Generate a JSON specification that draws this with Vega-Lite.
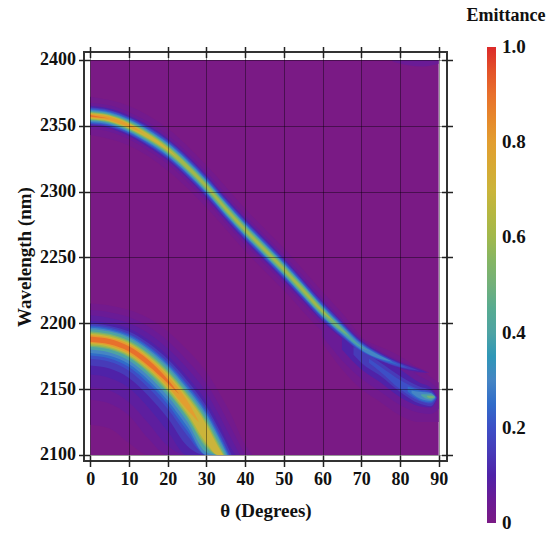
{"$schema":"https://vega.github.io/schema/vega-lite/v6.json","width":363,"height":409,"autosize":{"type":"none"},"padding":{"left":84,"top":52,"right":112,"bottom":72},"background":"white","config":{"view":{"stroke":"#333333","strokeWidth":2},"font":"Liberation Serif"},
"data":{"values":[
{"b":"Z","e":0,"t":0,"hi":2400,"lo":2100},{"b":"Z","e":0,"t":90,"hi":2400,"lo":2100},
{"b":"A","e":0.025,"t":0,"hi":2215,"lo":2123},{"b":"A","e":0.025,"t":5,"hi":2213.5,"lo":2120},{"b":"A","e":0.025,"t":10,"hi":2210,"lo":2109},{"b":"A","e":0.025,"t":15,"hi":2204,"lo":2100},{"b":"A","e":0.025,"t":20,"hi":2194,"lo":2100},{"b":"A","e":0.025,"t":25,"hi":2180,"lo":2100},{"b":"A","e":0.025,"t":30,"hi":2163,"lo":2100},{"b":"A","e":0.025,"t":33,"hi":2149,"lo":2100},{"b":"A","e":0.025,"t":36,"hi":2133,"lo":2100},{"b":"A","e":0.025,"t":40,"hi":2108,"lo":2100},{"b":"A","e":0.025,"t":42,"hi":2100,"lo":2100},
{"b":"U","e":0.025,"t":0,"hi":2372,"lo":2343},{"b":"U","e":0.025,"t":10,"hi":2365,"lo":2335},{"b":"U","e":0.025,"t":20,"hi":2348,"lo":2316},{"b":"U","e":0.025,"t":30,"hi":2320,"lo":2288},{"b":"U","e":0.025,"t":40,"hi":2287,"lo":2255},{"b":"U","e":0.025,"t":50,"hi":2257,"lo":2225},{"b":"U","e":0.025,"t":60,"hi":2224,"lo":2194},{"b":"U","e":0.025,"t":65,"hi":2208,"lo":2184},{"b":"U","e":0.025,"t":70,"hi":2190,"lo":2175},{"b":"U","e":0.025,"t":80,"hi":2173,"lo":2163},{"b":"U","e":0.025,"t":87,"hi":2163,"lo":2162},
{"b":"B","e":0.025,"t":60,"hi":2200,"lo":2185},{"b":"B","e":0.025,"t":65,"hi":2195,"lo":2165},{"b":"B","e":0.025,"t":70,"hi":2188,"lo":2150},{"b":"B","e":0.025,"t":75,"hi":2182,"lo":2140},{"b":"B","e":0.025,"t":80,"hi":2175,"lo":2130},{"b":"B","e":0.025,"t":85,"hi":2165,"lo":2125},{"b":"B","e":0.025,"t":90,"hi":2155,"lo":2125},
{"b":"C","e":0.05,"t":78,"hi":2400,"lo":2399},{"b":"C","e":0.05,"t":82,"hi":2400,"lo":2396},{"b":"C","e":0.05,"t":86,"hi":2400,"lo":2395},{"b":"C","e":0.05,"t":90,"hi":2400,"lo":2397},
{"b":"A","e":0.05,"t":0,"hi":2210,"lo":2142},{"b":"A","e":0.05,"t":5,"hi":2208.4,"lo":2139},{"b":"A","e":0.05,"t":10,"hi":2204.7,"lo":2130},{"b":"A","e":0.05,"t":15,"hi":2197.5,"lo":2112.5},{"b":"A","e":0.05,"t":20,"hi":2186.8,"lo":2100},{"b":"A","e":0.05,"t":25,"hi":2172,"lo":2100},{"b":"A","e":0.05,"t":30,"hi":2154.5,"lo":2100},{"b":"A","e":0.05,"t":33,"hi":2139.7,"lo":2100},{"b":"A","e":0.05,"t":36,"hi":2123,"lo":2100},{"b":"A","e":0.05,"t":40,"hi":2100,"lo":2100},
{"b":"U","e":0.05,"t":0,"hi":2367.5,"lo":2347.5},{"b":"U","e":0.05,"t":5,"hi":2365.5,"lo":2345.5},{"b":"U","e":0.05,"t":10,"hi":2360.3,"lo":2339.7},{"b":"U","e":0.05,"t":15,"hi":2352.9,"lo":2331.1},{"b":"U","e":0.05,"t":20,"hi":2342.9,"lo":2321.1},{"b":"U","e":0.05,"t":25,"hi":2330.1,"lo":2307.9},{"b":"U","e":0.05,"t":30,"hi":2315.2,"lo":2292.8},{"b":"U","e":0.05,"t":35,"hi":2298.2,"lo":2275.8},{"b":"U","e":0.05,"t":40,"hi":2282.2,"lo":2259.8},{"b":"U","e":0.05,"t":45,"hi":2267.2,"lo":2244.8},{"b":"U","e":0.05,"t":50,"hi":2252.2,"lo":2229.8},{"b":"U","e":0.05,"t":55,"hi":2235.8,"lo":2214.3},{"b":"U","e":0.05,"t":60,"hi":2219.1,"lo":2198.9},{"b":"U","e":0.05,"t":65,"hi":2203.4,"lo":2186.6},{"b":"U","e":0.05,"t":70,"hi":2188.4,"lo":2175.6},{"b":"U","e":0.05,"t":75,"hi":2178.8,"lo":2169.2},{"b":"U","e":0.05,"t":80,"hi":2171.3,"lo":2164.7},{"b":"U","e":0.05,"t":85,"hi":2165.8,"lo":2162.2},{"b":"U","e":0.05,"t":87.5,"hi":2162.6,"lo":2162.2},
{"b":"B","e":0.05,"t":60,"hi":2200,"lo":2190},{"b":"B","e":0.05,"t":65,"hi":2195,"lo":2172},{"b":"B","e":0.05,"t":70,"hi":2185,"lo":2158},{"b":"B","e":0.05,"t":75,"hi":2178,"lo":2148},{"b":"B","e":0.05,"t":80,"hi":2170,"lo":2138},{"b":"B","e":0.05,"t":85,"hi":2160,"lo":2132},{"b":"B","e":0.05,"t":88,"hi":2155,"lo":2131},{"b":"B","e":0.05,"t":90,"hi":2150,"lo":2135},
{"b":"A","e":0.075,"t":0,"hi":2206,"lo":2151.5},{"b":"A","e":0.075,"t":5,"hi":2204,"lo":2149},{"b":"A","e":0.075,"t":10,"hi":2200,"lo":2140},{"b":"A","e":0.075,"t":15,"hi":2192.5,"lo":2124},{"b":"A","e":0.075,"t":20,"hi":2181,"lo":2107},{"b":"A","e":0.075,"t":25,"hi":2166,"lo":2100},{"b":"A","e":0.075,"t":30,"hi":2147.5,"lo":2100},{"b":"A","e":0.075,"t":33,"hi":2132,"lo":2100},{"b":"A","e":0.075,"t":36,"hi":2115,"lo":2100},{"b":"A","e":0.075,"t":38.7,"hi":2100,"lo":2100},
{"b":"A","e":0.1,"t":0,"hi":2202,"lo":2161},{"b":"A","e":0.1,"t":5,"hi":2200,"lo":2158.5},{"b":"A","e":0.1,"t":10,"hi":2196,"lo":2151},{"b":"A","e":0.1,"t":15,"hi":2187.5,"lo":2136},{"b":"A","e":0.1,"t":20,"hi":2175.6,"lo":2118},{"b":"A","e":0.1,"t":25,"hi":2159.7,"lo":2100},{"b":"A","e":0.1,"t":30,"hi":2140.5,"lo":2100},{"b":"A","e":0.1,"t":33,"hi":2125,"lo":2100},{"b":"A","e":0.1,"t":36,"hi":2107,"lo":2100},{"b":"A","e":0.1,"t":37.5,"hi":2100,"lo":2100},
{"b":"U","e":0.1,"t":0,"hi":2365.1,"lo":2349.9},{"b":"U","e":0.1,"t":5,"hi":2363,"lo":2348},{"b":"U","e":0.1,"t":10,"hi":2357.8,"lo":2342.2},{"b":"U","e":0.1,"t":15,"hi":2350.3,"lo":2333.7},{"b":"U","e":0.1,"t":20,"hi":2340.4,"lo":2323.6},{"b":"U","e":0.1,"t":25,"hi":2327.5,"lo":2310.5},{"b":"U","e":0.1,"t":30,"hi":2312.6,"lo":2295.4},{"b":"U","e":0.1,"t":35,"hi":2295.5,"lo":2278.5},{"b":"U","e":0.1,"t":40,"hi":2279.5,"lo":2262.5},{"b":"U","e":0.1,"t":45,"hi":2264.5,"lo":2247.5},{"b":"U","e":0.1,"t":50,"hi":2249.5,"lo":2232.5},{"b":"U","e":0.1,"t":55,"hi":2233.1,"lo":2216.9},{"b":"U","e":0.1,"t":60,"hi":2216.7,"lo":2201.3},{"b":"U","e":0.1,"t":65,"hi":2201.4,"lo":2188.6},{"b":"U","e":0.1,"t":70,"hi":2186.9,"lo":2177.1},{"b":"U","e":0.1,"t":75,"hi":2177.6,"lo":2170.4},{"b":"U","e":0.1,"t":80,"hi":2170.3,"lo":2165.7},{"b":"U","e":0.1,"t":85,"hi":2165,"lo":2163},{"b":"U","e":0.1,"t":87,"hi":2162.5,"lo":2162.5},
{"b":"B","e":0.1,"t":65,"hi":2192,"lo":2180},{"b":"B","e":0.1,"t":70,"hi":2183,"lo":2165},{"b":"B","e":0.1,"t":75,"hi":2175,"lo":2155},{"b":"B","e":0.1,"t":80,"hi":2165,"lo":2144},{"b":"B","e":0.1,"t":85,"hi":2155,"lo":2137},{"b":"B","e":0.1,"t":88,"hi":2151,"lo":2136},{"b":"B","e":0.1,"t":89.7,"hi":2144,"lo":2143},
{"b":"A","e":0.15,"t":0,"hi":2200,"lo":2168},{"b":"A","e":0.15,"t":5,"hi":2198,"lo":2165.6},{"b":"A","e":0.15,"t":10,"hi":2193.7,"lo":2158.5},{"b":"A","e":0.15,"t":15,"hi":2185,"lo":2145},{"b":"A","e":0.15,"t":20,"hi":2172.8,"lo":2128},{"b":"A","e":0.15,"t":25,"hi":2156.6,"lo":2107},{"b":"A","e":0.15,"t":30,"hi":2137,"lo":2100},{"b":"A","e":0.15,"t":33,"hi":2121,"lo":2100},{"b":"A","e":0.15,"t":36,"hi":2103.4,"lo":2100},{"b":"A","e":0.15,"t":36.5,"hi":2100,"lo":2100},
{"b":"U","e":0.15,"t":0,"hi":2364,"lo":2351},{"b":"U","e":0.15,"t":5,"hi":2362,"lo":2349},{"b":"U","e":0.15,"t":10,"hi":2356.6,"lo":2343.4},{"b":"U","e":0.15,"t":15,"hi":2349,"lo":2335},{"b":"U","e":0.15,"t":20,"hi":2339.1,"lo":2324.9},{"b":"U","e":0.15,"t":25,"hi":2326.3,"lo":2311.7},{"b":"U","e":0.15,"t":30,"hi":2311.3,"lo":2296.7},{"b":"U","e":0.15,"t":35,"hi":2294.2,"lo":2279.8},{"b":"U","e":0.15,"t":40,"hi":2278.2,"lo":2263.8},{"b":"U","e":0.15,"t":45,"hi":2263.2,"lo":2248.8},{"b":"U","e":0.15,"t":50,"hi":2248.2,"lo":2233.8},{"b":"U","e":0.15,"t":55,"hi":2231.9,"lo":2218.1},{"b":"U","e":0.15,"t":60,"hi":2215.5,"lo":2202.5},{"b":"U","e":0.15,"t":65,"hi":2200.4,"lo":2189.6},{"b":"U","e":0.15,"t":70,"hi":2185.9,"lo":2178.1},{"b":"U","e":0.15,"t":75,"hi":2176.7,"lo":2171.3},{"b":"U","e":0.15,"t":80,"hi":2169.6,"lo":2166.4},{"b":"U","e":0.15,"t":85,"hi":2164,"lo":2164},
{"b":"B","e":0.15,"t":68,"hi":2182,"lo":2176},{"b":"B","e":0.15,"t":70,"hi":2180,"lo":2170},{"b":"B","e":0.15,"t":75,"hi":2170,"lo":2160},{"b":"B","e":0.15,"t":80,"hi":2160,"lo":2148},{"b":"B","e":0.15,"t":85,"hi":2152,"lo":2139},{"b":"B","e":0.15,"t":88,"hi":2149,"lo":2137},{"b":"B","e":0.15,"t":89.5,"hi":2144,"lo":2143},
{"b":"A","e":0.2,"t":0,"hi":2198.5,"lo":2173},{"b":"A","e":0.2,"t":5,"hi":2196.7,"lo":2170.7},{"b":"A","e":0.2,"t":10,"hi":2192,"lo":2164},{"b":"A","e":0.2,"t":15,"hi":2183,"lo":2151},{"b":"A","e":0.2,"t":20,"hi":2170.7,"lo":2135},{"b":"A","e":0.2,"t":25,"hi":2154,"lo":2115},{"b":"A","e":0.2,"t":30,"hi":2134.4,"lo":2100},{"b":"A","e":0.2,"t":33,"hi":2118.4,"lo":2100},{"b":"A","e":0.2,"t":36,"hi":2100,"lo":2100},
{"b":"U","e":0.2,"t":0,"hi":2363.4,"lo":2351.6},{"b":"U","e":0.2,"t":5,"hi":2361.3,"lo":2349.7},{"b":"U","e":0.2,"t":10,"hi":2356,"lo":2344},{"b":"U","e":0.2,"t":15,"hi":2348.2,"lo":2335.8},{"b":"U","e":0.2,"t":20,"hi":2338.2,"lo":2325.8},{"b":"U","e":0.2,"t":25,"hi":2325.3,"lo":2312.7},{"b":"U","e":0.2,"t":30,"hi":2310.3,"lo":2297.7},{"b":"U","e":0.2,"t":35,"hi":2293.2,"lo":2280.8},{"b":"U","e":0.2,"t":40,"hi":2277.2,"lo":2264.8},{"b":"U","e":0.2,"t":45,"hi":2262.2,"lo":2249.8},{"b":"U","e":0.2,"t":50,"hi":2247.2,"lo":2234.8},{"b":"U","e":0.2,"t":55,"hi":2230.9,"lo":2219.1},{"b":"U","e":0.2,"t":60,"hi":2214.4,"lo":2203.6},{"b":"U","e":0.2,"t":65,"hi":2199.4,"lo":2190.6},{"b":"U","e":0.2,"t":70,"hi":2185.2,"lo":2178.8},{"b":"U","e":0.2,"t":75,"hi":2176.1,"lo":2171.9},{"b":"U","e":0.2,"t":80,"hi":2169,"lo":2167},{"b":"U","e":0.2,"t":82,"hi":2166,"lo":2166},
{"b":"B","e":0.2,"t":72,"hi":2173,"lo":2170},{"b":"B","e":0.2,"t":75,"hi":2167,"lo":2163},{"b":"B","e":0.2,"t":80,"hi":2157,"lo":2150},{"b":"B","e":0.2,"t":85,"hi":2150,"lo":2141},{"b":"B","e":0.2,"t":88,"hi":2148,"lo":2139},{"b":"B","e":0.2,"t":89.3,"hi":2144,"lo":2143},
{"b":"A","e":0.25,"t":0,"hi":2197.5,"lo":2175.5},{"b":"A","e":0.25,"t":5,"hi":2195.7,"lo":2173.2},{"b":"A","e":0.25,"t":10,"hi":2191,"lo":2166.7},{"b":"A","e":0.25,"t":15,"hi":2182,"lo":2154.4},{"b":"A","e":0.25,"t":20,"hi":2169.3,"lo":2138.5},{"b":"A","e":0.25,"t":25,"hi":2152.7,"lo":2118.6},{"b":"A","e":0.25,"t":30,"hi":2132.6,"lo":2100},{"b":"A","e":0.25,"t":33,"hi":2116.6,"lo":2100},{"b":"A","e":0.25,"t":35.8,"hi":2100,"lo":2100},
{"b":"U","e":0.25,"t":0,"hi":2362.7,"lo":2352.3},{"b":"U","e":0.25,"t":5,"hi":2360.7,"lo":2350.3},{"b":"U","e":0.25,"t":10,"hi":2355.3,"lo":2344.7},{"b":"U","e":0.25,"t":15,"hi":2347.4,"lo":2336.6},{"b":"U","e":0.25,"t":20,"hi":2337.4,"lo":2326.6},{"b":"U","e":0.25,"t":25,"hi":2324.4,"lo":2313.6},{"b":"U","e":0.25,"t":30,"hi":2309.3,"lo":2298.7},{"b":"U","e":0.25,"t":35,"hi":2292.3,"lo":2281.7},{"b":"U","e":0.25,"t":40,"hi":2276.3,"lo":2265.7},{"b":"U","e":0.25,"t":45,"hi":2261.3,"lo":2250.7},{"b":"U","e":0.25,"t":50,"hi":2246.3,"lo":2235.7},{"b":"U","e":0.25,"t":55,"hi":2230.1,"lo":2219.9},{"b":"U","e":0.25,"t":60,"hi":2213.7,"lo":2204.3},{"b":"U","e":0.25,"t":65,"hi":2198.8,"lo":2191.2},{"b":"U","e":0.25,"t":70,"hi":2184.6,"lo":2179.4},{"b":"U","e":0.25,"t":75,"hi":2175.6,"lo":2172.4},{"b":"U","e":0.25,"t":80,"hi":2168,"lo":2168},
{"b":"B","e":0.25,"t":82,"hi":2152,"lo":2148},{"b":"B","e":0.25,"t":85,"hi":2149,"lo":2142},{"b":"B","e":0.25,"t":88,"hi":2147,"lo":2140},{"b":"B","e":0.25,"t":89.2,"hi":2144,"lo":2143},
{"b":"A","e":0.3,"t":0,"hi":2196.5,"lo":2177.5},{"b":"A","e":0.3,"t":5,"hi":2194.7,"lo":2175.3},{"b":"A","e":0.3,"t":10,"hi":2189.9,"lo":2169},{"b":"A","e":0.3,"t":15,"hi":2180.6,"lo":2157},{"b":"A","e":0.3,"t":20,"hi":2168,"lo":2141.3},{"b":"A","e":0.3,"t":25,"hi":2151,"lo":2121.7},{"b":"A","e":0.3,"t":30,"hi":2131,"lo":2100},{"b":"A","e":0.3,"t":33,"hi":2114.7,"lo":2100},{"b":"A","e":0.3,"t":35.5,"hi":2100,"lo":2100},
{"b":"U","e":0.3,"t":0,"hi":2362.2,"lo":2352.8},{"b":"U","e":0.3,"t":5,"hi":2360.1,"lo":2350.9},{"b":"U","e":0.3,"t":10,"hi":2354.7,"lo":2345.3},{"b":"U","e":0.3,"t":15,"hi":2346.8,"lo":2337.2},{"b":"U","e":0.3,"t":20,"hi":2336.8,"lo":2327.2},{"b":"U","e":0.3,"t":25,"hi":2323.8,"lo":2314.2},{"b":"U","e":0.3,"t":30,"hi":2308.7,"lo":2299.3},{"b":"U","e":0.3,"t":35,"hi":2291.6,"lo":2282.4},{"b":"U","e":0.3,"t":40,"hi":2275.6,"lo":2266.4},{"b":"U","e":0.3,"t":45,"hi":2260.6,"lo":2251.4},{"b":"U","e":0.3,"t":50,"hi":2245.6,"lo":2236.4},{"b":"U","e":0.3,"t":55,"hi":2229.5,"lo":2220.5},{"b":"U","e":0.3,"t":60,"hi":2213,"lo":2205},{"b":"U","e":0.3,"t":65,"hi":2198.2,"lo":2191.8},{"b":"U","e":0.3,"t":70,"hi":2184.1,"lo":2179.9},{"b":"U","e":0.3,"t":75,"hi":2175.1,"lo":2172.9},{"b":"U","e":0.3,"t":78,"hi":2171,"lo":2171},
{"b":"B","e":0.3,"t":83,"hi":2149,"lo":2147},{"b":"B","e":0.3,"t":85,"hi":2148,"lo":2143},{"b":"B","e":0.3,"t":88,"hi":2147,"lo":2141},{"b":"B","e":0.3,"t":89.1,"hi":2144,"lo":2143.5},
{"b":"A","e":0.4,"t":0,"hi":2195.5,"lo":2180},{"b":"A","e":0.4,"t":5,"hi":2193.7,"lo":2177.8},{"b":"A","e":0.4,"t":10,"hi":2188.8,"lo":2171.7},{"b":"A","e":0.4,"t":15,"hi":2179.4,"lo":2160},{"b":"A","e":0.4,"t":20,"hi":2166.5,"lo":2144.8},{"b":"A","e":0.4,"t":25,"hi":2149.6,"lo":2125.6},{"b":"A","e":0.4,"t":30,"hi":2129,"lo":2102},{"b":"A","e":0.4,"t":33,"hi":2113,"lo":2100},{"b":"A","e":0.4,"t":35.2,"hi":2100,"lo":2100},
{"b":"U","e":0.4,"t":0,"hi":2361.3,"lo":2353.7},{"b":"U","e":0.4,"t":5,"hi":2359.3,"lo":2351.7},{"b":"U","e":0.4,"t":10,"hi":2353.9,"lo":2346.1},{"b":"U","e":0.4,"t":15,"hi":2345.9,"lo":2338.1},{"b":"U","e":0.4,"t":20,"hi":2335.7,"lo":2328.3},{"b":"U","e":0.4,"t":25,"hi":2322.7,"lo":2315.3},{"b":"U","e":0.4,"t":30,"hi":2307.9,"lo":2300.1},{"b":"U","e":0.4,"t":35,"hi":2290.9,"lo":2283.1},{"b":"U","e":0.4,"t":40,"hi":2274.9,"lo":2267.1},{"b":"U","e":0.4,"t":45,"hi":2259.9,"lo":2252.1},{"b":"U","e":0.4,"t":50,"hi":2244.9,"lo":2237.1},{"b":"U","e":0.4,"t":55,"hi":2228.9,"lo":2221.1},{"b":"U","e":0.4,"t":60,"hi":2212.4,"lo":2205.6},{"b":"U","e":0.4,"t":65,"hi":2197.2,"lo":2192.8},{"b":"U","e":0.4,"t":70,"hi":2182.6,"lo":2181.4},{"b":"U","e":0.4,"t":72,"hi":2179,"lo":2179},
{"b":"B","e":0.4,"t":85.5,"hi":2146,"lo":2145},{"b":"B","e":0.4,"t":87,"hi":2146,"lo":2142.5},{"b":"B","e":0.4,"t":88,"hi":2146,"lo":2142},{"b":"B","e":0.4,"t":89,"hi":2144.5,"lo":2143.5},
{"b":"A","e":0.5,"t":0,"hi":2194,"lo":2182},{"b":"A","e":0.5,"t":5,"hi":2192,"lo":2180},{"b":"A","e":0.5,"t":10,"hi":2187,"lo":2174},{"b":"A","e":0.5,"t":15,"hi":2177.5,"lo":2162.5},{"b":"A","e":0.5,"t":20,"hi":2164.4,"lo":2147.6},{"b":"A","e":0.5,"t":25,"hi":2147.3,"lo":2128.7},{"b":"A","e":0.5,"t":30,"hi":2126.5,"lo":2105.5},{"b":"A","e":0.5,"t":33,"hi":2110,"lo":2100},{"b":"A","e":0.5,"t":34.8,"hi":2100,"lo":2100},
{"b":"U","e":0.5,"t":0,"hi":2360.7,"lo":2354.3},{"b":"U","e":0.5,"t":5,"hi":2358.6,"lo":2352.4},{"b":"U","e":0.5,"t":10,"hi":2353.2,"lo":2346.8},{"b":"U","e":0.5,"t":15,"hi":2345,"lo":2339},{"b":"U","e":0.5,"t":20,"hi":2334.9,"lo":2329.1},{"b":"U","e":0.5,"t":25,"hi":2321.8,"lo":2316.2},{"b":"U","e":0.5,"t":30,"hi":2306.9,"lo":2301.1},{"b":"U","e":0.5,"t":35,"hi":2289.9,"lo":2284.1},{"b":"U","e":0.5,"t":40,"hi":2273.9,"lo":2268.1},{"b":"U","e":0.5,"t":45,"hi":2258.9,"lo":2253.1},{"b":"U","e":0.5,"t":50,"hi":2243.9,"lo":2238.1},{"b":"U","e":0.5,"t":55,"hi":2227.9,"lo":2222.1},{"b":"U","e":0.5,"t":60,"hi":2211.3,"lo":2206.7},{"b":"U","e":0.5,"t":65,"hi":2196,"lo":2194},{"b":"U","e":0.5,"t":67,"hi":2190,"lo":2190},
{"b":"B","e":0.5,"t":87,"hi":2145,"lo":2144},{"b":"B","e":0.5,"t":88,"hi":2145,"lo":2143},{"b":"B","e":0.5,"t":88.9,"hi":2144.2,"lo":2143.8},
{"b":"A","e":0.6,"t":0,"hi":2193,"lo":2183},{"b":"A","e":0.6,"t":5,"hi":2191,"lo":2181},{"b":"A","e":0.6,"t":10,"hi":2186,"lo":2175},{"b":"A","e":0.6,"t":15,"hi":2176.3,"lo":2163.7},{"b":"A","e":0.6,"t":20,"hi":2163,"lo":2149},{"b":"A","e":0.6,"t":25,"hi":2145.8,"lo":2130.2},{"b":"A","e":0.6,"t":30,"hi":2124.8,"lo":2107.2},{"b":"A","e":0.6,"t":33,"hi":2108,"lo":2100},{"b":"A","e":0.6,"t":34.5,"hi":2100,"lo":2100},
{"b":"U","e":0.6,"t":0,"hi":2360,"lo":2355},{"b":"U","e":0.6,"t":5,"hi":2358,"lo":2353},{"b":"U","e":0.6,"t":10,"hi":2352.5,"lo":2347.5},{"b":"U","e":0.6,"t":15,"hi":2344.3,"lo":2339.7},{"b":"U","e":0.6,"t":20,"hi":2334,"lo":2330},{"b":"U","e":0.6,"t":25,"hi":2320.8,"lo":2317.2},{"b":"U","e":0.6,"t":30,"hi":2305.5,"lo":2302.5},{"b":"U","e":0.6,"t":35,"hi":2288.5,"lo":2285.5},{"b":"U","e":0.6,"t":40,"hi":2272.5,"lo":2269.5},{"b":"U","e":0.6,"t":45,"hi":2257.5,"lo":2254.5},{"b":"U","e":0.6,"t":50,"hi":2242.5,"lo":2239.5},{"b":"U","e":0.6,"t":55,"hi":2226.5,"lo":2223.5},{"b":"U","e":0.6,"t":60,"hi":2210,"lo":2208},{"b":"U","e":0.6,"t":63,"hi":2201,"lo":2201},
{"b":"A","e":0.7,"t":0,"hi":2192,"lo":2184},{"b":"A","e":0.7,"t":5,"hi":2190,"lo":2182},{"b":"A","e":0.7,"t":10,"hi":2185,"lo":2176},{"b":"A","e":0.7,"t":15,"hi":2175,"lo":2165},{"b":"A","e":0.7,"t":20,"hi":2161.6,"lo":2150.4},{"b":"A","e":0.7,"t":25,"hi":2144,"lo":2132},{"b":"A","e":0.7,"t":30,"hi":2123,"lo":2109},{"b":"A","e":0.7,"t":33,"hi":2106.4,"lo":2100},{"b":"A","e":0.7,"t":34.3,"hi":2100,"lo":2100},
{"b":"U","e":0.7,"t":0,"hi":2359.5,"lo":2355.5},{"b":"U","e":0.7,"t":5,"hi":2357.5,"lo":2353.5},{"b":"U","e":0.7,"t":10,"hi":2351.9,"lo":2348.1},{"b":"U","e":0.7,"t":15,"hi":2343.5,"lo":2340.5},{"b":"U","e":0.7,"t":20,"hi":2332.8,"lo":2331.2},{"b":"U","e":0.7,"t":23,"hi":2324.5,"lo":2324.5},
{"b":"A","e":0.8,"t":0,"hi":2191,"lo":2185},{"b":"A","e":0.8,"t":5,"hi":2189,"lo":2183},{"b":"A","e":0.8,"t":10,"hi":2184,"lo":2177},{"b":"A","e":0.8,"t":15,"hi":2173.7,"lo":2166.3},{"b":"A","e":0.8,"t":20,"hi":2160,"lo":2152},{"b":"A","e":0.8,"t":25,"hi":2141.5,"lo":2134.5},{"b":"A","e":0.8,"t":28,"hi":2125.5,"lo":2125},
{"b":"U","e":0.8,"t":0,"hi":2359,"lo":2356},{"b":"U","e":0.8,"t":5,"hi":2356.9,"lo":2354.1},{"b":"U","e":0.8,"t":10,"hi":2351.2,"lo":2348.8},{"b":"U","e":0.8,"t":14,"hi":2344,"lo":2344},
{"b":"A","e":0.9,"t":0,"hi":2190,"lo":2186},{"b":"A","e":0.9,"t":5,"hi":2188,"lo":2184},{"b":"A","e":0.9,"t":10,"hi":2182.5,"lo":2178.5},{"b":"A","e":0.9,"t":15,"hi":2172.3,"lo":2167.7},{"b":"A","e":0.9,"t":20,"hi":2157.5,"lo":2154.5},{"b":"A","e":0.9,"t":23,"hi":2146,"lo":2146},
{"b":"U","e":0.9,"t":0,"hi":2358.1,"lo":2356.9},{"b":"U","e":0.9,"t":5,"hi":2355.5,"lo":2355.5}
]},
"resolve":{"axis":{"x":"independent","y":"independent"}},
"layer":[
{"mark":{"type":"area","interpolate":"monotone"},
"encoding":{
"x":{"field":"t","type":"quantitative","scale":{"domain":[-1.6,92.15],"nice":false,"zero":false},"axis":{"orient":"bottom","title":"θ (Degrees)","values":[0,10,20,30,40,50,60,70,80,90],"offset":-5.5,"tickSize":11,"tickWidth":1.5,"tickColor":"#222222","domain":false,"grid":true,"gridColor":"#000000","gridOpacity":0.4,"gridWidth":1,"zindex":1,"labelFont":"Liberation Serif","labelFontWeight":"bold","labelFontSize":18,"labelColor":"#111111","labelPadding":4,"titleFont":"Liberation Serif","titleFontWeight":"bold","titleFontSize":19,"titleColor":"#111111","titlePadding":13}},
"y":{"field":"hi","type":"quantitative","scale":{"domain":[2095.4,2406],"nice":false,"zero":false},"axis":{"orient":"left","title":"Wavelength (nm)","format":"d","values":[2100,2150,2200,2250,2300,2350,2400],"offset":-5.5,"tickSize":11,"tickWidth":1.5,"tickColor":"#222222","domain":false,"grid":true,"gridColor":"#000000","gridOpacity":0.4,"gridWidth":1,"zindex":1,"labelFont":"Liberation Serif","labelFontWeight":"bold","labelFontSize":18,"labelColor":"#111111","labelPadding":3,"titleFont":"Liberation Serif","titleFontWeight":"bold","titleFontSize":19,"titleColor":"#111111","titlePadding":5}},
"y2":{"field":"lo"},
"detail":[{"field":"b"},{"field":"e"}],
"color":{"field":"e","type":"quantitative","scale":{"domain":[0,0.1,0.2,0.3,0.4,0.5,0.6,0.7,0.8,0.9,1],"range":["#7a1a85","#4f22a8","#3d4fc6","#4585c4","#4ea3a3","#72b07a","#a0b84c","#cbb43a","#e29e30","#e8702c","#dc2a2a"]},
"legend":{"orient":"none","legendX":383,"legendY":-45,"direction":"vertical","title":"Emittance","titleAnchor":"middle","titleFont":"Liberation Serif","titleFontWeight":"bold","titleFontSize":18,"titleColor":"#111111","titlePadding":22,"gradientLength":476,"gradientThickness":9,"gradientStrokeWidth":0,"values":[0,0.2,0.4,0.6,0.8,1],"labelExpr":"datum.value==0?'0':format(datum.value,'.1f')","labelFont":"Liberation Serif","labelFontWeight":"bold","labelFontSize":19,"labelColor":"#111111","labelOffset":6,"encode":{"labels":{"update":{"baseline":{"value":"middle"}}}}}}
}},
{"mark":{"type":"point","opacity":0},
"encoding":{
"x":{"field":"t","type":"quantitative","axis":{"orient":"top","title":null,"values":[0,10,20,30,40,50,60,70,80,90],"offset":-5.5,"tickSize":11,"tickWidth":1.5,"tickColor":"#222222","domain":false,"grid":false,"labels":false,"zindex":1}},
"y":{"field":"hi","type":"quantitative","axis":{"orient":"right","title":null,"values":[2100,2150,2200,2250,2300,2350,2400],"offset":-5.5,"tickSize":11,"tickWidth":1.5,"tickColor":"#222222","domain":false,"grid":false,"labels":false,"zindex":1}}
}}
]}
